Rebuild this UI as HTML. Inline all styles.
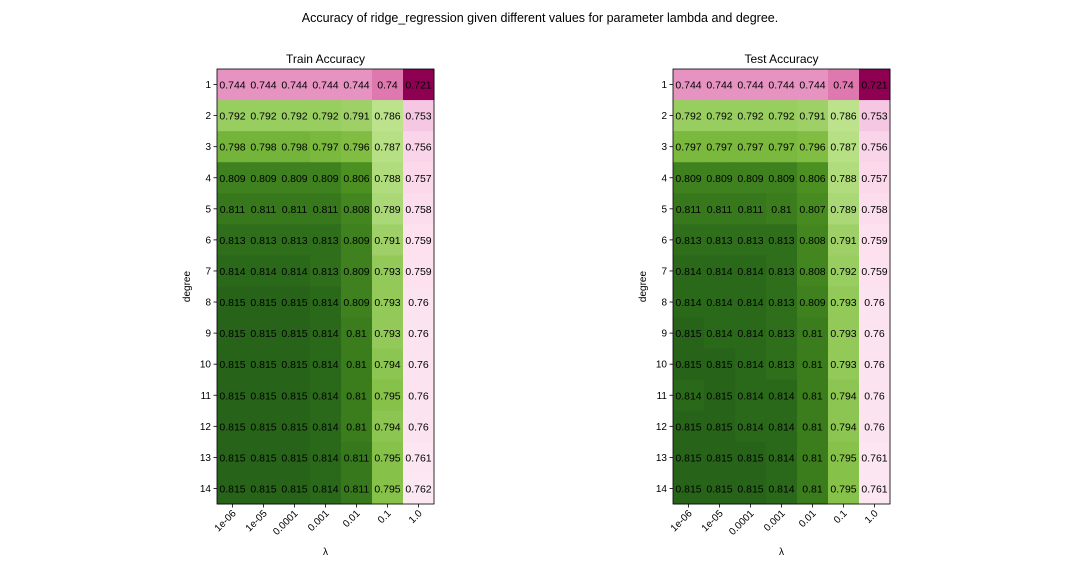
<!DOCTYPE html>
<html><head><meta charset="utf-8"><style>
body{margin:0;background:#fff;font-family:"Liberation Sans","DejaVu Sans",sans-serif}
</style></head><body>
<svg id="fig" width="1080" height="576" xmlns="http://www.w3.org/2000/svg" font-family="Liberation Sans, DejaVu Sans, sans-serif">
<rect width="1080" height="576" fill="#fff"/>
<text x="540" y="22" font-size="12.5" text-anchor="middle">Accuracy of ridge_regression given different values for parameter lambda and degree.</text>
</svg>
<script>
const lambdas=["1e-06","1e-05","0.0001","0.001","0.01","0.1","1.0"];
const degrees=[1,2,3,4,5,6,7,8,9,10,11,12,13,14];
const trainAcc=[
[0.744,0.744,0.744,0.744,0.744,0.74,0.721],
[0.792,0.792,0.792,0.792,0.791,0.786,0.753],
[0.798,0.798,0.798,0.797,0.796,0.787,0.756],
[0.809,0.809,0.809,0.809,0.806,0.788,0.757],
[0.811,0.811,0.811,0.811,0.808,0.789,0.758],
[0.813,0.813,0.813,0.813,0.809,0.791,0.759],
[0.814,0.814,0.814,0.813,0.809,0.793,0.759],
[0.815,0.815,0.815,0.814,0.809,0.793,0.76],
[0.815,0.815,0.815,0.814,0.81,0.793,0.76],
[0.815,0.815,0.815,0.814,0.81,0.794,0.76],
[0.815,0.815,0.815,0.814,0.81,0.795,0.76],
[0.815,0.815,0.815,0.814,0.81,0.794,0.76],
[0.815,0.815,0.815,0.814,0.811,0.795,0.761],
[0.815,0.815,0.815,0.814,0.811,0.795,0.762]];
const testAcc=[
[0.744,0.744,0.744,0.744,0.744,0.74,0.721],
[0.792,0.792,0.792,0.792,0.791,0.786,0.753],
[0.797,0.797,0.797,0.797,0.796,0.787,0.756],
[0.809,0.809,0.809,0.809,0.806,0.788,0.757],
[0.811,0.811,0.811,0.81,0.807,0.789,0.758],
[0.813,0.813,0.813,0.813,0.808,0.791,0.759],
[0.814,0.814,0.814,0.813,0.808,0.792,0.759],
[0.814,0.814,0.814,0.813,0.809,0.793,0.76],
[0.815,0.814,0.814,0.813,0.81,0.793,0.76],
[0.815,0.815,0.814,0.813,0.81,0.793,0.76],
[0.814,0.815,0.814,0.814,0.81,0.794,0.76],
[0.815,0.815,0.814,0.814,0.81,0.794,0.76],
[0.815,0.815,0.815,0.814,0.81,0.795,0.761],
[0.815,0.815,0.815,0.814,0.81,0.795,0.761]];
const cmap=["#8e0152","#c51b7d","#de77ae","#f1b6da","#fde0ef","#f7f7f7","#e6f5d0","#b8e186","#7fbc41","#4d9221","#276419"];
function hex(h){return[1,3,5].map(i=>parseInt(h.substr(i,2),16));}
function color(t){t=Math.max(0,Math.min(1,t));const p=t*10,i=Math.min(9,Math.floor(p)),f=p-i;const a=hex(cmap[i]),b=hex(cmap[i+1]);return"rgb("+a.map((v,k)=>Math.round(v+(b[k]-v)*f)).join(",")+")";}
const svg=document.getElementById('fig');const NS="http://www.w3.org/2000/svg";
function mk(tag,attrs,parent){const e=document.createElementNS(NS,tag);for(const k in attrs)e.setAttribute(k,attrs[k]);(parent||svg).appendChild(e);return e;}
function heat(x0,title,data,key){
 const y0=69,W=217,H=435,cw=W/lambdas.length,ch=H/degrees.length;
 const g=mk('g',{});
 
 
 const all=data.flat(),mn=Math.min(...all),mx=Math.max(...all);
 const xs=j=>x0+j*cw,ys=i=>y0+i*ch;
 data.forEach((row,i)=>row.forEach((v,j)=>{
  const r=mk('rect',{x:xs(j),y:ys(i),width:cw+0.5,height:ch+0.5,fill:color((v-mn)/(mx-mn))},g);
  
  
  const t=mk('text',{x:xs(j)+cw/2,y:ys(i)+ch/2+4,'font-size':10.5,'text-anchor':'middle',fill:'#000'},g);
  t.textContent=String(v);
  
  
 }));
 mk('rect',{x:x0,y:y0,width:W,height:H,fill:'none',stroke:'#000','stroke-width':0.8},g);
 const tt=mk('text',{x:x0+W/2,y:y0-6,'font-size':12,'text-anchor':'middle'},g);tt.textContent=title;
 
 
 degrees.forEach((d,i)=>{const y=ys(i)+ch/2;mk('line',{x1:x0-3.5,x2:x0,y1:y,y2:y,stroke:'#000','stroke-width':0.8},g);
  const t=mk('text',{x:x0-6,y:y+3.5,'font-size':10,'text-anchor':'end'},g);t.textContent=d;
  
  });
 lambdas.forEach((l,j)=>{const x=xs(j)+cw/2;mk('line',{x1:x,x2:x,y1:y0+H,y2:y0+H+3.5,stroke:'#000','stroke-width':0.8},g);
  const t=mk('text',{x:x+4,y:y0+H+10,'font-size':10,'text-anchor':'end',transform:`rotate(-45 ${x+4} ${y0+H+10})`},g);t.textContent=l;
  
  });
 const yl=mk('text',{x:x0-27,y:y0+H/2,'font-size':10,'text-anchor':'middle',transform:`rotate(-90 ${x0-27} ${y0+H/2})`},g);yl.textContent='degree';
 
 
 const xl=mk('text',{x:x0+W/2,y:555,'font-size':10,'text-anchor':'middle'},g);xl.textContent='λ';
 
 
}
heat(217,'Train Accuracy',trainAcc,'train');
heat(673,'Test Accuracy',testAcc,'test');
</script>
</body></html>
